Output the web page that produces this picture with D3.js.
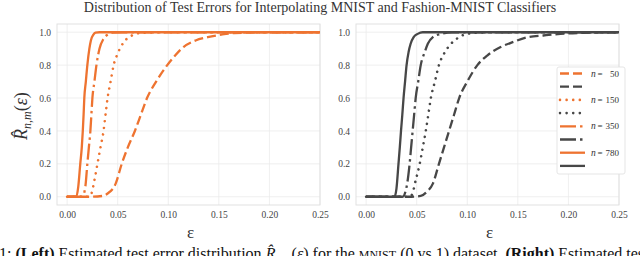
<!DOCTYPE html>
<html>
<head>
<meta charset="utf-8">
<script src="https://cdn.jsdelivr.net/npm/d3@7"></script>
<style>
  body { margin: 0; background: #fff; }
  svg { display: block; font-family: "Liberation Serif", "DejaVu Serif", serif; }
</style>
</head>
<body>
<div id="chart"></div>
<script>
// values
let xTicks = [0.00, 0.05, 0.10, 0.15, 0.20, 0.25];
let yTicks = [0.0, 0.2, 0.4, 0.6, 0.8, 1.0];
let sizes = [50, 150, 350, 780];

// left panel (MNIST)
let leftEps50  = [0, 0.02, 0.035, 0.040, 0.048, 0.054, 0.060, 0.067, 0.073, 0.079, 0.088, 0.099, 0.107, 0.115, 0.127, 0.139, 0.152, 0.165, 0.20, 0.25];
let leftR50    = [0, 0, 0.005, 0.02, 0.08, 0.2, 0.3, 0.4, 0.5, 0.6, 0.7, 0.8, 0.86, 0.91, 0.95, 0.97, 0.985, 0.995, 1, 1];
let leftEps150 = [0, 0.020, 0.024, 0.027, 0.030, 0.033, 0.036, 0.038, 0.040, 0.043, 0.046, 0.050, 0.053, 0.059, 0.066, 0.072, 0.09, 0.25];
let leftR150   = [0, 0, 0.02, 0.1, 0.2, 0.3, 0.4, 0.5, 0.6, 0.7, 0.8, 0.87, 0.91, 0.96, 0.985, 0.995, 1, 1];
let leftEps350 = [0, 0.015, 0.018, 0.020, 0.0215, 0.023, 0.024, 0.025, 0.027, 0.029, 0.032, 0.036, 0.040, 0.045, 0.055, 0.25];
let leftR350   = [0, 0, 0.06, 0.2, 0.3, 0.4, 0.5, 0.6, 0.7, 0.8, 0.9, 0.96, 0.985, 0.997, 1, 1];
let leftEps780 = [0, 0.009, 0.011, 0.013, 0.0145, 0.0155, 0.0163, 0.017, 0.0185, 0.020, 0.022, 0.0235, 0.026, 0.028, 0.032, 0.25];
let leftR780   = [0, 0, 0.06, 0.2, 0.3, 0.4, 0.5, 0.6, 0.7, 0.8, 0.9, 0.95, 0.985, 0.997, 1, 1];

// right panel (Fashion-MNIST)
let rightEps50  = [0, 0.045, 0.054, 0.060, 0.066, 0.072, 0.077, 0.082, 0.087, 0.092, 0.100, 0.110, 0.120, 0.133, 0.145, 0.160, 0.175, 0.192, 0.22, 0.25];
let rightR50    = [0, 0, 0.005, 0.03, 0.08, 0.2, 0.3, 0.4, 0.5, 0.6, 0.7, 0.8, 0.86, 0.91, 0.94, 0.97, 0.98, 0.99, 0.997, 1];
let rightEps150 = [0, 0.040, 0.045, 0.049, 0.053, 0.056, 0.059, 0.0615, 0.064, 0.068, 0.072, 0.078, 0.084, 0.092, 0.100, 0.12, 0.25];
let rightR150   = [0, 0, 0.01, 0.1, 0.2, 0.3, 0.4, 0.5, 0.6, 0.7, 0.8, 0.88, 0.93, 0.97, 0.99, 1, 1];
let rightEps350 = [0, 0.036, 0.040, 0.043, 0.0445, 0.046, 0.0475, 0.049, 0.0515, 0.054, 0.058, 0.061, 0.066, 0.074, 0.085, 0.25];
let rightR350   = [0, 0, 0.06, 0.2, 0.3, 0.4, 0.5, 0.6, 0.7, 0.8, 0.88, 0.93, 0.97, 0.99, 1, 1];
let rightEps780 = [0, 0.028, 0.030, 0.032, 0.0333, 0.0345, 0.0358, 0.037, 0.0385, 0.040, 0.042, 0.044, 0.047, 0.051, 0.056, 0.25];
let rightR780   = [0, 0, 0.05, 0.2, 0.3, 0.4, 0.5, 0.6, 0.7, 0.8, 0.88, 0.93, 0.97, 0.99, 1, 1];

let orange = "#ee7330";
let dark = "#474747";
let dashes = ["9,4", "0.01,6.6", "16,4,2.5,4", null];

let svgWidth = 640, svgHeight = 256;

let svg = d3.select("#chart")
  .append("svg")
  .attr("width", svgWidth)
  .attr("height", svgHeight);

let panels = [
  {left: 57, right: 320, color: orange,
   series: [[leftEps50, leftR50], [leftEps150, leftR150], [leftEps350, leftR350], [leftEps780, leftR780]]},
  {left: 356, right: 619, color: dark,
   series: [[rightEps50, rightR50], [rightEps150, rightR150], [rightEps350, rightR350], [rightEps780, rightR780]]}
];

let plotTop = 24, plotBottom = 205;

let yScale = d3.scaleLinear().domain([-0.05, 1.05]).range([plotBottom, plotTop]);

panels.forEach(function(p, pi) {
  let xScale = d3.scaleLinear().domain([-0.01, 0.25]).range([p.left, p.right]);
  let g = svg.append("g");

  // grid
  g.append("g").selectAll("line")
    .data(xTicks).enter().append("line")
    .attr("x1", d => xScale(d)).attr("x2", d => xScale(d))
    .attr("y1", plotTop).attr("y2", plotBottom)
    .attr("stroke", "#ebebeb").attr("stroke-width", 0.8);
  g.append("g").selectAll("line")
    .data(yTicks).enter().append("line")
    .attr("x1", p.left).attr("x2", p.right)
    .attr("y1", d => yScale(d)).attr("y2", d => yScale(d))
    .attr("stroke", "#ebebeb").attr("stroke-width", 0.8);

  // axes (labels only)
  let xAxis = g.append("g")
    .attr("transform", `translate(0, ${plotBottom})`)
    .call(d3.axisBottom(xScale).tickValues(xTicks).tickFormat(d3.format(".2f")).tickSize(0).tickPadding(6));
  let yAxis = g.append("g")
    .attr("transform", `translate(${p.left}, 0)`)
    .call(d3.axisLeft(yScale).tickValues(yTicks).tickFormat(d3.format(".1f")).tickSize(0).tickPadding(6));
  [xAxis, yAxis].forEach(a => {
    a.select(".domain").remove();
    a.selectAll("text")
      .attr("font-family", "Liberation Serif, serif")
      .attr("font-size", "9.5px")
      .attr("fill", "#444");
  });

  // frame
  g.append("rect")
    .attr("x", p.left).attr("y", plotTop)
    .attr("width", p.right - p.left).attr("height", plotBottom - plotTop)
    .attr("fill", "none").attr("stroke", "#dedede").attr("stroke-width", 0.9);

  let line = d3.line()
    .x(d => xScale(d[0]))
    .y(d => yScale(d[1]))
    .curve(d3.curveMonotoneX);

  p.series.forEach(function(s, i) {
    let pts = s[0].map((e, k) => [e, s[1][k]]);
    g.append("path")
      .datum(pts)
      .attr("d", line)
      .attr("fill", "none")
      .attr("stroke", p.color)
      .attr("stroke-width", i == 1 ? 2.6 : 2.3)
      .attr("stroke-dasharray", dashes[i])
      .attr("stroke-linecap", i == 1 ? "round" : "butt");
  });

  // x label
  svg.append("text")
    .attr("x", (p.left + p.right) / 2 + 2)
    .attr("y", 238)
    .attr("text-anchor", "middle")
    .attr("font-size", "17px")
    .attr("fill", "#333")
    .text("ε");
});

// y label
let yl = svg.append("text")
  .attr("transform", "translate(27, 116) rotate(-90)")
  .attr("text-anchor", "middle")
  .attr("font-size", "18px")
  .attr("fill", "#333");
yl.append("tspan").attr("font-style", "italic").text("R\u0302");
yl.append("tspan").attr("font-style", "italic").attr("font-size", "12px").attr("dy", 4).text("n,m");
yl.append("tspan").attr("dy", -4).text("(");
yl.append("tspan").attr("font-style", "italic").text("ε");
yl.append("tspan").text(")");

// title
svg.append("text")
  .attr("x", 320)
  .attr("y", 12)
  .attr("text-anchor", "middle")
  .attr("font-size", "14px")
  .attr("fill", "#333")
  .text("Distribution of Test Errors for Interpolating MNIST and Fashion-MNIST Classifiers");

// legend
let lg = svg.append("g");
lg.append("rect")
  .attr("x", 557).attr("y", 67).attr("width", 68).attr("height", 107)
  .attr("rx", 2)
  .attr("fill", "#fff").attr("stroke", "#e2e2e2").attr("stroke-width", 0.9);

let legendRows = [];
sizes.forEach(function(n, i) {
  legendRows.push({color: orange, dash: dashes[i], label: n, cap: i == 1});
  legendRows.push({color: dark, dash: dashes[i], label: null, cap: i == 1});
});

legendRows.forEach(function(r, k) {
  let y = 73.5 + k * 13.2;
  lg.append("line")
    .attr("x1", 560).attr("x2", 585)
    .attr("y1", y).attr("y2", y)
    .attr("stroke", r.color).attr("stroke-width", r.cap ? 2.6 : 2.3)
    .attr("stroke-dasharray", r.dash)
    .attr("stroke-linecap", r.cap ? "round" : "butt");
  if (r.label != null) {
    lg.append("text")
      .attr("x", 591).attr("y", y + 3)
      .attr("font-size", "9.5px").attr("fill", "#333")
      .attr("font-style", "italic")
      .text("n");
    lg.append("text")
      .attr("x", 597.5).attr("y", y + 3)
      .attr("font-size", "9px").attr("fill", "#333")
      .text("=");
    lg.append("text")
      .attr("x", 619).attr("y", y + 3)
      .attr("text-anchor", "end")
      .attr("font-size", "9px").attr("fill", "#333")
      .text(r.label);
  }
});

// caption (cut off by the bottom edge, as in the reference)
let cap = svg.append("text")
  .attr("x", -1)
  .attr("y", 259)
  .attr("font-size", "16px")
  .attr("fill", "#111");
cap.append("tspan").text("1: ");
cap.append("tspan").attr("font-weight", "bold").text("(Left)");
cap.append("tspan").text(" Estimated test error distribution ");
cap.append("tspan").attr("font-style", "italic").text("R\u0302");
cap.append("tspan").attr("font-style", "italic").attr("font-size", "11px").attr("dy", 3).text("n,m");
cap.append("tspan").attr("dy", -3).text("(");
cap.append("tspan").attr("font-style", "italic").text("ε");
cap.append("tspan").text(") for the ");
cap.append("tspan").attr("font-size", "12px").text("MNIST");
cap.append("tspan").text(" (0 vs 1) dataset. ");
cap.append("tspan").attr("font-weight", "bold").text("(Right)");
cap.append("tspan").text(" Estimated test");
</script>
</body>
</html>
